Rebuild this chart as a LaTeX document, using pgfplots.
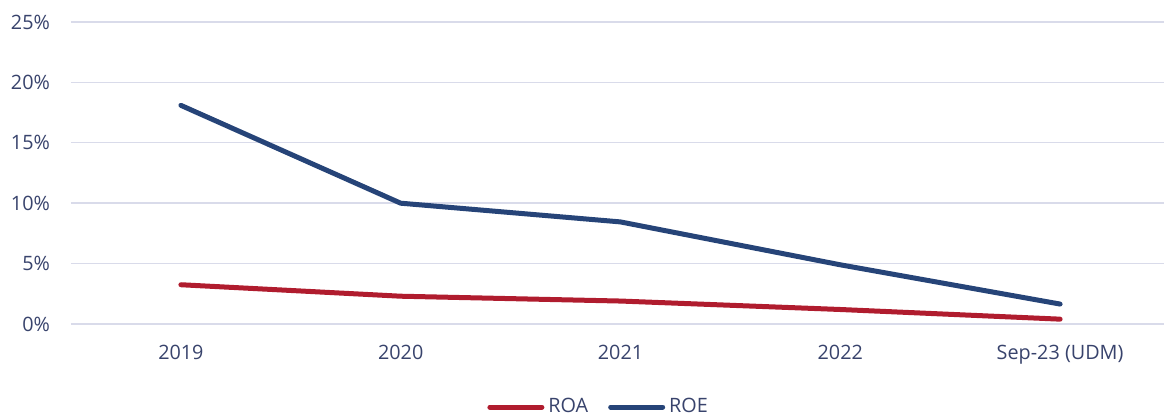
\documentclass[border=0pt]{standalone}
\usepackage{pgfplots}
\pgfplotsset{compat=1.18}
\usepackage{fontspec}
\setmainfont{Open Sans}
\definecolor{txt}{HTML}{38436C}
\definecolor{gridc}{HTML}{D9DBEA}
\definecolor{roa}{HTML}{B01C2E}
\definecolor{roe}{HTML}{264478}
\begin{document}
\begin{tikzpicture}
\useasboundingbox (-35.5pt,-46.5pt) rectangle (546.5pt,162pt);
\begin{axis}[
  at={(0,0)}, anchor=south west,
  scale only axis, width=549.5pt, height=151pt,
  xmin=-0.5, xmax=4.5, ymin=0, ymax=25,
  xtick={0,1,2,3,4},
  xticklabels={2019,2020,2021,2022,Sep-23 (UDM)},
  ytick={0,5,10,15,20,25},
  yticklabel={\pgfmathprintnumber{\tick}\%},
  /pgf/number format/assume math mode=true,
  axis line style={draw=none},
  major tick style={draw=none},
  ymajorgrids,
  major grid style={color=gridc, line width=0.7pt},
  tick label style={font=\fontsize{9.9pt}{11.5pt}\selectfont, text=txt},
  yticklabel style={xshift=-7pt},
  xticklabel style={yshift=-7pt},
  legend style={at={(0.481,-0.275)}, anchor=center, draw=none, fill=none,
    font=\fontsize{9.9pt}{11.5pt}\selectfont, text=txt, legend columns=2,
    /tikz/every even column/.append style={column sep=8pt}, inner sep=0pt},
  legend image code/.code={\draw[#1, line width=2.5pt, line cap=round] (0pt,0pt) -- (26pt,0pt);},
  legend cell align=left,
]
\addplot[roa, line width=2.5pt, line cap=round, line join=round] coordinates {
 (0,3.25) (1,2.3) (2,1.9) (3,1.2) (4,0.4)};
\addlegendentry{ROA}
\addplot[roe, line width=2.5pt, line cap=round, line join=round] coordinates {
 (0,18.1) (1,10.0) (2,8.45) (3,4.9) (4,1.65)};
\addlegendentry{ROE}
\end{axis}
\end{tikzpicture}
\end{document}
